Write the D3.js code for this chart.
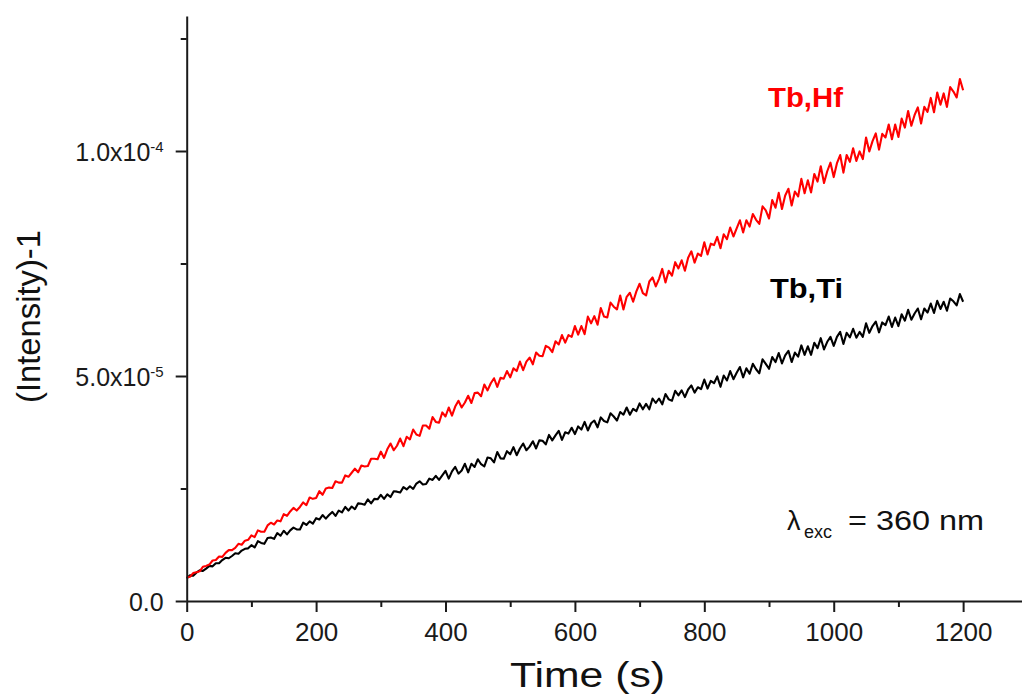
<!DOCTYPE html>
<html>
<head>
<meta charset="utf-8">
<script src="https://cdn.jsdelivr.net/npm/d3@7"></script>
<style>
  body { margin: 0; background: #fff; }
  text { font-family: "Liberation Sans", Arial, sans-serif; }
</style>
</head>
<body>
<div id="chart"></div>
<script>
// traces sampled every 5 s from 0 to 1200 s, values in units of 1e-6
var tStep = 5;

var tbHf = [
  5.2, 5.4, 6.2, 6.4, 6.6, 7.6, 7.8, 8.1, 9.0, 9.1,
  9.9, 9.8, 10.7, 11.3, 11.3, 11.8, 12.7, 12.5, 13.4, 13.6,
  14.6, 14.2, 15.7, 15.4, 15.4, 16.8, 17.4, 17.0, 17.9, 17.7,
  19.3, 18.9, 19.9, 20.7, 20.1, 20.9, 21.9, 21.3, 23.0, 22.7,
  22.9, 24.4, 23.6, 25.0, 25.2, 25.1, 26.6, 26.3, 26.3, 27.9,
  27.6, 28.5, 29.4, 28.6, 30.1, 29.9, 30.0, 31.6, 31.6, 31.5,
  33.2, 31.8, 33.7, 35.0, 33.5, 34.5, 36.1, 34.4, 36.5, 35.9,
  38.1, 37.0, 36.7, 39.0, 39.0, 38.3, 40.9, 39.8, 39.6, 41.9,
  41.0, 43.0, 41.2, 43.2, 44.5, 43.0, 44.1, 45.6, 44.0, 46.2,
  46.3, 45.5, 48.1, 46.8, 48.4, 49.5, 47.6, 49.6, 49.4, 51.1,
  49.7, 51.7, 51.1, 53.2, 51.3, 53.2, 54.1, 52.6, 55.2, 54.5,
  54.4, 56.7, 56.3, 55.3, 57.7, 57.0, 59.1, 57.4, 59.1, 58.7,
  61.1, 59.2, 61.1, 59.3, 63.2, 61.7, 63.3, 61.4, 65.1, 63.2,
  63.0, 66.3, 65.4, 64.8, 67.9, 64.8, 67.6, 68.5, 66.5, 68.8,
  70.5, 68.4, 67.9, 71.0, 71.9, 69.9, 71.6, 73.8, 70.8, 73.4,
  72.3, 75.3, 73.9, 75.7, 73.4, 76.3, 77.7, 75.2, 77.2, 76.7,
  79.7, 77.0, 79.4, 79.1, 80.9, 78.4, 81.5, 80.4, 83.0, 81.0,
  82.8, 84.6, 81.9, 84.6, 83.2, 86.0, 84.7, 83.8, 87.7, 86.8,
  85.0, 89.1, 87.4, 90.7, 87.1, 90.1, 91.6, 87.9, 91.0, 89.9,
  93.8, 90.6, 93.5, 90.8, 94.9, 93.2, 96.6, 92.9, 95.5, 97.4,
  94.2, 97.3, 99.1, 95.2, 99.1, 97.6, 100.6, 97.8, 99.9, 98.2,
  103.0, 99.9, 102.2, 103.9, 100.3, 103.8, 103.0, 105.9, 102.6, 105.9,
  103.1, 107.2, 105.2, 108.9, 105.6, 108.0, 109.7, 106.1, 109.8, 108.7,
  111.8, 108.6, 113.0, 110.3, 112.8, 109.8, 114.2, 113.2, 111.9, 116.0,
  113.5
];

var tbTi = [
  5.0, 5.7, 5.6, 6.3, 6.8, 6.7, 7.2, 7.8, 7.7, 8.4,
  8.4, 9.1, 9.6, 9.5, 10.0, 10.6, 10.5, 11.2, 11.6, 11.7,
  12.4, 11.9, 13.3, 12.9, 12.7, 14.0, 14.1, 13.8, 15.1, 14.5,
  15.6, 14.8, 15.7, 16.3, 15.9, 15.9, 17.4, 16.9, 17.7, 17.2,
  18.4, 18.1, 19.1, 18.3, 19.1, 19.8, 18.9, 20.1, 19.7, 20.9,
  20.1, 21.0, 20.4, 21.7, 21.6, 21.4, 22.6, 21.7, 22.7, 22.6,
  23.6, 22.7, 23.7, 23.1, 24.4, 24.3, 24.1, 25.3, 24.8, 25.5,
  24.9, 26.1, 26.6, 25.9, 26.0, 27.2, 26.9, 27.8, 26.9, 27.9,
  28.9, 27.2, 28.8, 29.8, 28.3, 29.0, 30.5, 28.6, 30.5, 29.8,
  31.5, 30.4, 29.9, 31.9, 31.7, 30.8, 33.1, 31.7, 31.6, 33.3,
  32.6, 34.2, 32.4, 33.9, 35.0, 33.5, 34.3, 35.5, 33.9, 35.7,
  35.6, 34.8, 36.9, 35.7, 36.8, 37.8, 35.8, 37.5, 37.2, 38.5,
  37.1, 38.8, 38.1, 39.8, 37.9, 39.5, 40.1, 38.6, 40.8, 40.0,
  39.7, 41.7, 41.0, 40.1, 42.0, 41.4, 43.0, 41.4, 42.7, 42.2,
  43.9, 42.6, 43.8, 42.6, 45.0, 44.0, 45.0, 43.7, 46.0, 44.8,
  44.5, 46.7, 45.7, 46.8, 45.3, 47.0, 47.9, 46.3, 47.5, 47.1,
  49.2, 47.2, 48.9, 48.4, 49.9, 47.6, 50.1, 49.0, 51.1, 49.3,
  50.7, 52.0, 49.7, 51.7, 50.5, 52.7, 51.5, 50.6, 53.7, 52.7,
  51.6, 54.2, 53.1, 55.1, 52.8, 54.6, 55.6, 53.1, 55.2, 54.3,
  56.8, 54.7, 56.6, 54.7, 57.4, 56.2, 58.4, 55.9, 57.6, 58.7,
  56.7, 58.7, 59.8, 57.1, 59.6, 58.6, 60.5, 58.5, 59.8, 58.7,
  61.7, 59.6, 61.1, 62.1, 59.7, 61.9, 61.3, 63.2, 60.9, 63.0,
  61.1, 63.7, 62.3, 64.7, 62.5, 63.9, 65.0, 62.6, 65.0, 64.1,
  66.1, 64.0, 66.7, 64.9, 66.5, 64.5, 67.2, 66.6, 65.7, 68.2,
  66.5
];

var xMajor = [0, 200, 400, 600, 800, 1000, 1200];
var xMinor = [100, 300, 500, 700, 900, 1100];
var yMajor = [0, 5e-5, 1e-4];
var yMinor = [2.5e-5, 7.5e-5, 1.25e-4];
var yMant = ["0.0", "5.0x10", "1.0x10"];
var yExp = ["", "-5", "-4"];

var width = 1022, height = 696;
var ink = "#1a1a1a";

var svg = d3.select("#chart").append("svg")
  .attr("width", width)
  .attr("height", height);

var x = d3.scaleLinear().domain([0, 1291]).range([186.7, 1022]);
var y = d3.scaleLinear().domain([0, 1.3e-4]).range([601, 16]);

function toPoints(arr) {
  return arr.map(function (v, i) { return { t: i * tStep, v: v * 1e-6 }; });
}

var line = d3.line()
  .x(function (d) { return x(d.t); })
  .y(function (d) { return y(d.v); });

// traces
svg.append("path")
  .datum(toPoints(tbTi))
  .attr("fill", "none")
  .attr("stroke", "#000")
  .attr("stroke-width", 2.1)
  .attr("stroke-linejoin", "round")
  .attr("d", line);

svg.append("path")
  .datum(toPoints(tbHf))
  .attr("fill", "none")
  .attr("stroke", "#ff0000")
  .attr("stroke-width", 2.1)
  .attr("stroke-linejoin", "round")
  .attr("d", line);

// x axis
var gx = svg.append("g")
  .attr("transform", "translate(0," + y(0) + ")")
  .call(d3.axisBottom(x).tickValues(xMajor).tickSize(11).tickSizeOuter(0)
    .tickPadding(11).tickFormat(d3.format("d")));
svg.append("g")
  .attr("transform", "translate(0," + y(0) + ")")
  .call(d3.axisBottom(x).tickValues(xMinor).tickSize(6).tickFormat(""))
  .call(function (g) { g.select(".domain").remove(); });

// y axis
var gy = svg.append("g")
  .attr("transform", "translate(" + x(0) + ",0)")
  .call(d3.axisLeft(y).tickValues(yMajor).tickSize(11).tickSizeOuter(0)
    .tickPadding(12).tickFormat(""));
svg.append("g")
  .attr("transform", "translate(" + x(0) + ",0)")
  .call(d3.axisLeft(y).tickValues(yMinor).tickSize(6).tickFormat(""))
  .call(function (g) { g.select(".domain").remove(); });

svg.selectAll(".domain, .tick line")
  .attr("stroke", ink)
  .attr("stroke-width", 2);

gx.selectAll(".tick text")
  .attr("fill", ink)
  .style("font-size", "26px");

gy.selectAll(".tick text").each(function (d, i) {
  var t = d3.select(this)
    .attr("fill", ink)
    .attr("dy", null)
    .attr("y", 9)
    .style("font-size", "25px");
  t.append("tspan").text(yMant[i]);
  if (yExp[i]) {
    t.append("tspan")
      .attr("dy", -9)
      .style("font-size", "15px")
      .text(yExp[i]);
  }
});

// axis titles
svg.append("text")
  .attr("x", 510)
  .attr("y", 687)
  .attr("fill", "#111")
  .attr("textLength", 155)
  .attr("lengthAdjust", "spacingAndGlyphs")
  .style("font-size", "35px")
  .text("Time (s)");

svg.append("text")
  .attr("transform", "translate(40,403) rotate(-90)")
  .attr("fill", "#111")
  .attr("textLength", 173)
  .attr("lengthAdjust", "spacingAndGlyphs")
  .style("font-size", "33px")
  .text("(Intensity)-1");

// series labels
svg.append("text")
  .attr("x", 768)
  .attr("y", 107)
  .attr("fill", "#ff0000")
  .attr("font-weight", "bold")
  .attr("textLength", 75)
  .attr("lengthAdjust", "spacingAndGlyphs")
  .style("font-size", "27px")
  .text("Tb,Hf");

svg.append("text")
  .attr("x", 770)
  .attr("y", 298)
  .attr("fill", "#000")
  .attr("font-weight", "bold")
  .attr("textLength", 73)
  .attr("lengthAdjust", "spacingAndGlyphs")
  .style("font-size", "27px")
  .text("Tb,Ti");

// excitation note
svg.append("text")
  .attr("x", 787)
  .attr("y", 530)
  .attr("fill", "#111")
  .style("font-size", "27px")
  .text("λ");
svg.append("text")
  .attr("x", 804)
  .attr("y", 538)
  .attr("fill", "#111")
  .style("font-size", "18px")
  .text("exc");
svg.append("text")
  .attr("x", 848)
  .attr("y", 530)
  .attr("fill", "#111")
  .attr("textLength", 136)
  .attr("lengthAdjust", "spacingAndGlyphs")
  .style("font-size", "27px")
  .text("= 360 nm");
</script>
</body>
</html>
